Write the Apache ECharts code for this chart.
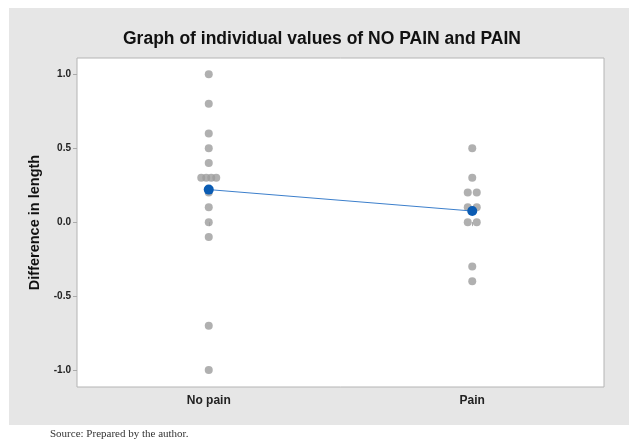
<!DOCTYPE html>
<html>
<head>
<meta charset="utf-8">
<script src="https://cdn.jsdelivr.net/npm/echarts@6/dist/echarts.min.js"></script>
<style>html,body{margin:0;padding:0;background:#fff;}#c{width:629px;height:441px;}</style>
</head>
<body>
<div id="c"></div>
<script>
var categories = ['No pain', 'Pain'];
var noPainValues = [1.0, 0.8, 0.6, 0.5, 0.4, 0.3, 0.3, 0.3, 0.3, 0.2, 0.1, 0.0, -0.1, -0.7, -1.0];
var painValues = [0.5, 0.3, 0.2, 0.2, 0.1, 0.1, 0.0, 0.0, -0.3, -0.4];
var meanValues = [0.22, 0.075];
var yTicks = [-1.0, -0.5, 0.0, 0.5, 1.0];

function buildPoints(values, catIndex, spacing) {
  var counts = {};
  values.forEach(function (v) { var k = v.toFixed(2); counts[k] = (counts[k] || 0) + 1; });
  var seen = {};
  return values.map(function (v) {
    var k = v.toFixed(2);
    var n = counts[k];
    var i = seen[k] || 0;
    seen[k] = i + 1;
    var off = (i - (n - 1) / 2) * spacing;
    return { value: [catIndex, v], symbolOffset: [off, 0] };
  });
}

var chart = echarts.init(document.getElementById('c'), null, { renderer: 'canvas' });
var option = {
  backgroundColor: '#ffffff',
  animation: false,
  graphic: [
    { type: 'rect', z: -10, silent: true, shape: { x: 9, y: 8, width: 620, height: 417 }, style: { fill: '#e6e6e6' } },
    { type: 'text', x: 322, y: 39, style: { text: 'Graph of individual values of NO PAIN and PAIN', font: 'bold 17.5px "Liberation Sans", Arial, sans-serif', fill: '#111', align: 'center', verticalAlign: 'middle' } },
    { type: 'text', left: 50, top: 429, style: { text: 'Source: Prepared by the author.', font: '11px "Liberation Serif", serif', fill: '#333' } }
  ],
  grid: {
    left: 77, right: 25, top: 58, bottom: 54,
    show: true, backgroundColor: '#ffffff', borderColor: '#b4b4b4', borderWidth: 1
  },
  xAxis: {
    type: 'category',
    data: categories,
    boundaryGap: true,
    axisLine: { show: false },
    axisTick: { show: true, alignWithLabel: true, length: 4, lineStyle: { color: '#aaa' } },
    axisLabel: { margin: 8, fontFamily: 'Liberation Sans, Arial, sans-serif', fontSize: 12, fontWeight: 'bold', color: '#222' },
    splitLine: { show: false }
  },
  yAxis: {
    type: 'value',
    min: -1.115,
    max: 1.11,
    name: 'Difference in length',
    nameLocation: 'middle',
    nameRotate: 90,
    nameGap: 35,
    nameTextStyle: { fontFamily: 'Liberation Sans, Arial, sans-serif', fontSize: 14.5, fontWeight: 'bold', color: '#111' },
    axisLine: { show: false },
    axisTick: { show: true, length: 4, customValues: yTicks, lineStyle: { color: '#aaa' } },
    axisLabel: {
      customValues: yTicks, margin: 6,
      formatter: function (v) { return v.toFixed(1); },
      fontFamily: 'Liberation Sans, Arial, sans-serif', fontSize: 10, fontWeight: 'bold', color: '#222'
    },
    splitLine: { show: false }
  },
  series: [
    {
      type: 'scatter', symbolSize: 8,
      itemStyle: { color: '#9c9c9c' },
      data: buildPoints(noPainValues, 0, 5)
    },
    {
      type: 'scatter', symbolSize: 8,
      itemStyle: { color: '#9c9c9c' },
      data: buildPoints(painValues, 1, 9)
    },
    {
      type: 'line', z: 5,
      data: meanValues.map(function (v, i) { return [i, v]; }),
      symbol: 'circle', symbolSize: 10,
      lineStyle: { color: '#3c7fcc', width: 1 },
      itemStyle: { color: '#0b5cb3' }
    }
  ]
};
chart.setOption(option);
</script>
</body>
</html>
